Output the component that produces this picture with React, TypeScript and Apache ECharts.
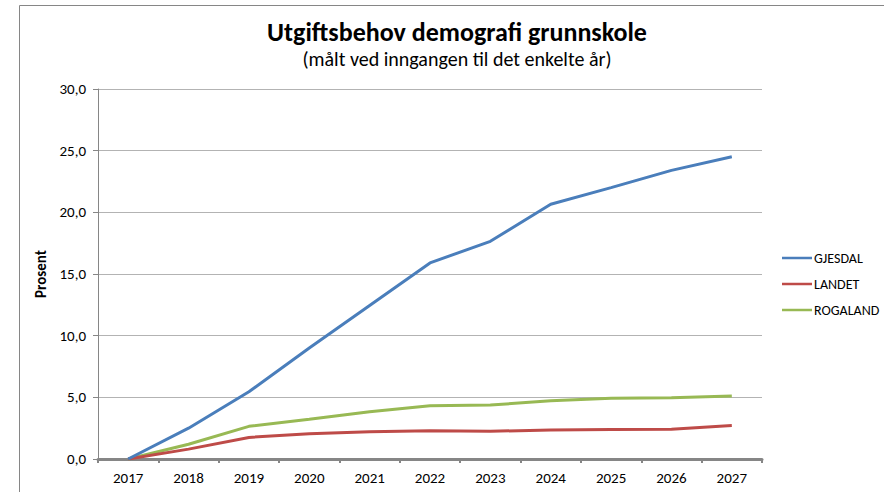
import React, { useEffect, useRef } from "react";
import * as echarts from "echarts";

const years = ["2017", "2018", "2019", "2020", "2021", "2022", "2023", "2024", "2025", "2026", "2027"];
const gjesdal = [0, 2.5, 5.45, 9.0, 12.45, 15.9, 17.65, 20.65, 22.0, 23.4, 24.5];
const landet = [0, 0.8, 1.75, 2.05, 2.2, 2.3, 2.25, 2.35, 2.4, 2.42, 2.72];
const rogaland = [0, 1.2, 2.65, 3.22, 3.83, 4.32, 4.37, 4.73, 4.92, 4.97, 5.1];
const seriesNames = ["GJESDAL", "LANDET", "ROGALAND"];
const seriesColors = ["#4a7ebb", "#be4b48", "#98b954"];
const titleText = "Utgiftsbehov demografi grunnskole";
const subtitleText = "(målt ved inngangen til det enkelte år)";
const yAxisName = "Prosent";

const FONT = "Carlito, Lato, 'Open Sans', sans-serif";

export default function App() {
  const ref = useRef<HTMLDivElement>(null);
  useEffect(() => {
    if (!ref.current) return;
    const chart = echarts.init(ref.current, null, { renderer: "svg" });
    const values = [gjesdal, landet, rogaland];
    chart.setOption({
      animation: false,
      backgroundColor: "#ffffff",
      textStyle: { fontFamily: FONT },
      graphic: [
        {
          type: "rect",
          shape: { x: 19.5, y: 5.5, width: 900, height: 500 },
          style: { fill: "none", stroke: "#868686", lineWidth: 1 },
          silent: true,
        },
        {
          type: "text",
          x: 457,
          y: 19,
          style: {
            text: titleText,
            font: `bold 26px ${FONT}`,
            fill: "#000000",
            textAlign: "center",
          },
        },
        {
          type: "text",
          x: 457,
          y: 49,
          style: {
            text: subtitleText,
            font: `20px ${FONT}`,
            fill: "#000000",
            textAlign: "center",
          },
        },
      ],
      legend: {
        orient: "vertical",
        left: 782,
        top: 251,
        padding: 0,
        itemWidth: 30,
        itemHeight: 14,
        itemGap: 12,
        data: seriesNames.map((n, i) => ({
          name: n,
          icon: "path://M0,6 L30,6 L30,8.5 L0,8.5 Z",
          itemStyle: { color: seriesColors[i] },
        })),
        textStyle: { fontFamily: FONT, fontSize: 14, color: "#000000", padding: [0, 0, 0, -3] },
      },
      grid: { left: 98, right: 122, top: 89, bottom: 33 },
      xAxis: {
        type: "category",
        data: years,
        boundaryGap: true,
        axisLine: { show: true, lineStyle: { color: "#868686", width: 3 } },
        axisTick: { show: true, length: 4, lineStyle: { color: "#868686", width: 2 } },
        axisLabel: { color: "#000000", fontSize: 15, margin: 11, fontFamily: FONT },
        splitLine: { show: false },
      },
      yAxis: {
        type: "value",
        min: 0,
        max: 30,
        interval: 5,
        name: yAxisName,
        nameLocation: "middle",
        nameGap: 39,
        nameRotate: 90,
        nameTextStyle: { fontWeight: "bold", fontSize: 15, color: "#000000", fontFamily: FONT },
        axisLine: { show: true, lineStyle: { color: "#868686", width: 1 } },
        axisTick: { show: true, length: 5, lineStyle: { color: "#868686" } },
        axisLabel: {
          color: "#000000",
          fontSize: 15,
          margin: 12,
          fontFamily: FONT,
          formatter: (v: number) => v.toFixed(1).replace(".", ","),
        },
        splitLine: { show: true, lineStyle: { color: "#b3b3b3", width: 1 } },
      },
      series: seriesNames.map((n, i) => ({
        name: n,
        type: "line",
        data: values[i],
        symbol: "none",
        showSymbol: false,
        z: 5 - i,
        lineStyle: { color: seriesColors[i], width: 3 },
        itemStyle: { color: seriesColors[i] },
      })),
    });
    return () => chart.dispose();
  }, []);
  return (
    <div
      ref={ref}
      style={{ position: "fixed", left: 0, top: 0, width: 884, height: 492 }}
    />
  );
}
